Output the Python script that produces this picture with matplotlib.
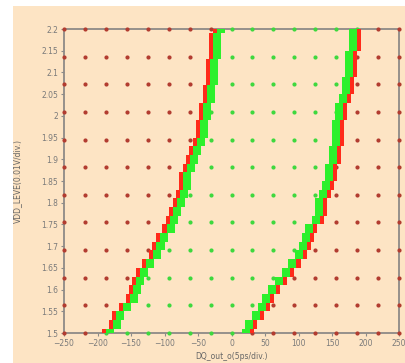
import numpy as np
import matplotlib.pyplot as plt
from matplotlib.patches import Rectangle
from matplotlib.ticker import MultipleLocator, FormatStrFormatter

# shmoo boundaries (DQ_out_o in ps, VDD level in V)
vdd = [1.50, 1.52, 1.54, 1.56, 1.58, 1.60, 1.62, 1.64, 1.66, 1.68, 1.70, 1.72,
       1.74, 1.76, 1.78, 1.80, 1.82, 1.84, 1.86, 1.88, 1.90, 1.92, 1.94, 1.96,
       1.98, 2.00, 2.02, 2.04, 2.06, 2.08, 2.10, 2.12, 2.14, 2.16, 2.18, 2.20]
left_edge = [-190, -180, -175, -165, -155, -150, -145, -140, -130, -120, -115, -110,
             -100, -95, -90, -85, -80, -75, -75, -70, -65, -60, -55, -50,
             -50, -45, -45, -40, -40, -35, -35, -35, -30, -30, -30, -25]
right_edge = [30, 35, 45, 55, 60, 70, 80, 90, 100, 110, 115, 120,
              125, 135, 140, 140, 145, 150, 155, 155, 160, 160, 165, 165,
              165, 170, 170, 175, 180, 180, 185, 185, 185, 190, 190, 190]

# coarse grid of the shmoo dots
dot_x = np.linspace(-250, 250, 17)
dot_y = np.linspace(1.5, 2.2, 12)

bg = '#fde4c4'
red_band = '#ff2a1a'
green_band = '#2cf02c'
red_dot = '#b23c30'
green_dot = '#3ed83e'

fig = plt.figure(figsize=(4.06, 3.63), dpi=100)
fig.patch.set_facecolor('white')
fig.patches.append(Rectangle((13 / 406, 0), 1, 1 - 6 / 363, transform=fig.transFigure,
                             facecolor=bg, edgecolor='none', zorder=-10))

ax = fig.add_axes([64 / 406, 1 - 333 / 363, 335 / 406, 304 / 363])
ax.set_facecolor(bg)

vdd = np.array(vdd)
xl = np.array(left_edge, dtype=float)
xr = np.array(right_edge, dtype=float)

# sparse dots, green inside the passing window
gx, gy = np.meshgrid(dot_x, dot_y)
lo = np.interp(gy, vdd, xl)
hi = np.interp(gy, vdd, xr)
ok = (gx > lo) & (gx < hi)
ax.plot(gx[~ok], gy[~ok], 'o', color=red_dot, markersize=3, markeredgewidth=0,
        zorder=4, clip_on=False)
ax.plot(gx[ok], gy[ok], 'o', color=green_dot, markersize=3, markeredgewidth=0,
        zorder=4, clip_on=False)

# boundary bands as staircases
ax.fill_betweenx(vdd, xl - 3, xl + 3, step='mid', color=red_band, lw=0, zorder=5)
ax.fill_betweenx(vdd, xl + 3, xl + 15, step='mid', color=green_band, lw=0, zorder=5)
ax.fill_betweenx(vdd, xr - 3, xr + 3, step='mid', color=red_band, lw=0, zorder=5)
ax.fill_betweenx(vdd, xr - 15, xr - 3, step='mid', color=green_band, lw=0, zorder=5)

ax.set_xlim(-250, 250)
ax.set_ylim(1.5, 2.2)
ax.xaxis.set_major_locator(MultipleLocator(50))
ax.yaxis.set_major_locator(MultipleLocator(0.05))
ax.yaxis.set_major_formatter(FormatStrFormatter('%g'))
ax.tick_params(labelsize=5.5, colors='#8a8a8a', labelcolor='#7a7a7a', length=2.5, width=0.8, pad=1.5)
for s in ax.spines.values():
    s.set_color('#8e8a86')
    s.set_linewidth(1.3)
    s.set_zorder(3)

ax.set_xlabel('DQ_out_o(5ps/div.)', fontsize=5.5, color='#666666', labelpad=3)
ax.set_ylabel('VDD_LEVE(0.01V/div.)', fontsize=5.5, color='#666666')
ax.yaxis.set_label_coords(-0.125, 0.5)

fig.savefig('out.png', dpi=100, facecolor=fig.get_facecolor())
